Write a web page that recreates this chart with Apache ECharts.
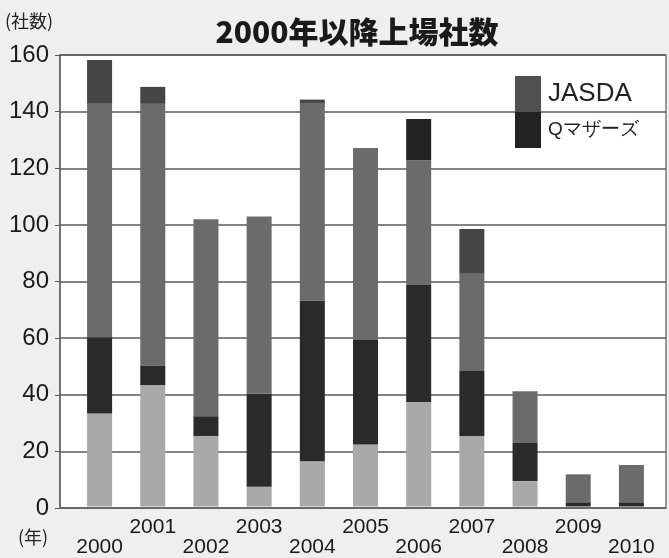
<!DOCTYPE html>
<html><head><meta charset="utf-8">
<script src="https://cdn.jsdelivr.net/npm/echarts@6/dist/echarts.min.js"></script>
<style>html,body{margin:0;padding:0;background:#efefef;}#c{width:669px;height:558px;}</style>
</head><body><div id="c"></div>
<script>
const years = ['2000','2001','2002','2003','2004','2005','2006','2007','2008','2009','2010'];
const yTicks = [0,20,40,60,80,100,120,140,160];
const otherLower = [33, 43, 25, 7, 16, 22, 37, 25, 9, 0, 0];
const mothers    = [27, 7, 7, 33, 57, 37, 41.5, 23, 13.5, 1.5, 1.5];
const jasdaMid   = [82.7, 92.7, 69.8, 62.8, 70, 68, 44.2, 34.5, 18.3, 9.9, 13.2];
const topGray    = [15.5, 6, 0, 0, 1.2, 0, 0, 15.8, 0, 0, 0];
const topBlack   = [0, 0, 0, 0, 0, 0, 14.6, 0, 0, 0, 0];

const FONT = "'Liberation Sans', Arial, sans-serif";
const chart = echarts.init(document.getElementById('c'));
const gTop = 55, gBottom = 50;
function bar(name, data, color) {
  return { name, type: 'bar', stack: 's', xAxisIndex: 1, yAxisIndex: 1, data,
    barWidth: 25, itemStyle: { color }, emphasis: { disabled: true } };
}
chart.setOption({
  animation: false,
  backgroundColor: '#efefef',
  grid: [
    { left: 60, right: 3, top: gTop, bottom: gBottom, show: true, backgroundColor: '#ffffff', borderColor: '#777', borderWidth: 1.5 },
    { left: 73, right: 11, top: gTop, bottom: gBottom }
  ],
  xAxis: [
    { gridIndex: 0, type: 'category', data: years, show: false },
    { gridIndex: 1, type: 'category', data: years,
      axisLine: { show: false }, axisTick: { show: false },
      axisLabel: { interval: 0, margin: 11, fontFamily: FONT, fontSize: 21, color: '#1a1a1a', lineHeight: 20,
        formatter: (v, i) => (i % 2 === 0 ? '\n' + v : v) } }
  ],
  yAxis: [
    { gridIndex: 0, type: 'value', min: 0, max: 160, interval: 20,
      axisLine: { show: true, lineStyle: { color: '#666', width: 1.5 } },
      axisTick: { show: true, length: 5, lineStyle: { color: '#555' } },
      axisLabel: { margin: 11, fontFamily: FONT, fontSize: 24, color: '#1a1a1a',
        formatter: v => (yTicks.includes(v) ? String(v) : '') },
      splitLine: { show: true, lineStyle: { color: '#5a5a5a', width: 1.5 } } },
    { gridIndex: 1, type: 'value', min: 0, max: 160, interval: 20, show: false, splitLine: { show: false } }
  ],
  legend: {
    orient: 'vertical', left: 510, top: 71, itemWidth: 26, itemHeight: 36, itemGap: 0, itemStyle: { borderWidth: 0 },
    icon: 'rect',
    formatter: name => (name === 'JASDA' ? '{a|' + name + '}' : '{b|' + name + '}'),
    textStyle: { fontFamily: FONT, color: '#222', padding: [0,0,0,2],
      rich: { a: { fontFamily: FONT, fontSize: 26, color: '#222' }, b: { fontFamily: FONT, fontSize: 19, color: '#222' } } },
    data: [{ name: 'JASDA', itemStyle: { color: '#505050' } }, { name: 'Qマザーズ', itemStyle: { color: '#222222' } }],
    selectedMode: false
  },
  series: [
    bar('その他', otherLower, '#a9a9a9'),
    bar('Qマザーズ', mothers, '#2a2a2a'),
    bar('JASDA', jasdaMid, '#6b6b6b'),
    bar('上位A', topGray, '#454545'),
    bar('上位B', topBlack, '#222222')
  ],
  graphic: [
    { type: 'text', left: 5, top: 12, style: { text: '(社数)', fontFamily: "'Noto Sans CJK JP', sans-serif", fontSize: 18, fill: '#222' } },
    { type: 'text', left: 18, top: 528, style: { text: '(年)', fontFamily: "'Noto Sans CJK JP', sans-serif", fontSize: 18, fill: '#222' } },
    { type: 'text', x: 357, y: 32, style: { text: '2000年以降上場社数', fontFamily: "'Noto Sans CJK JP', sans-serif", fontWeight: 900, fontSize: 30, fill: '#1a1a1a', align: 'center', verticalAlign: 'middle' } }
  ]
});
</script></body></html>
